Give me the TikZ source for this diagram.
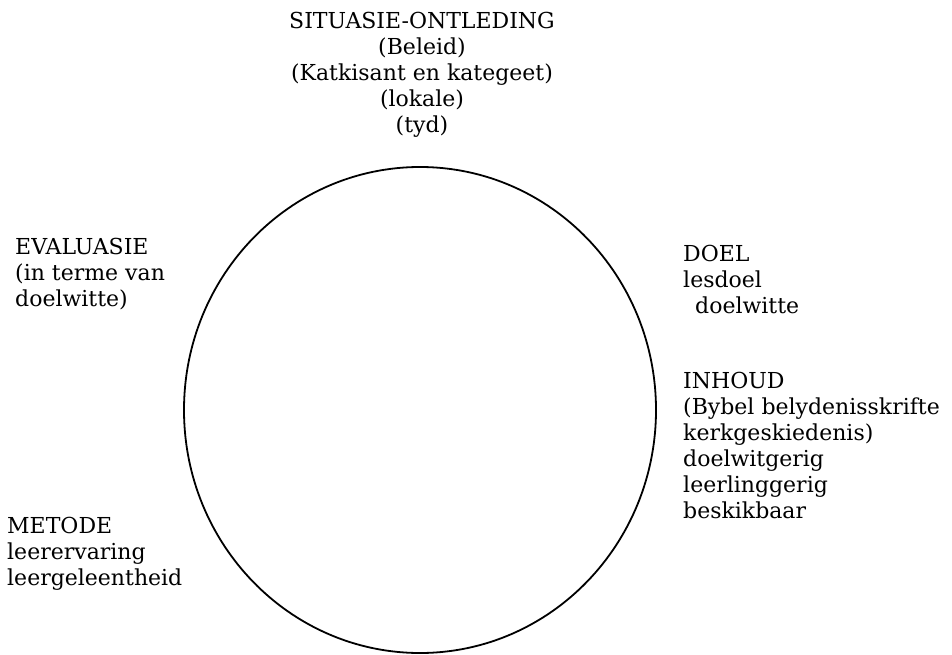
\documentclass[tikz,border=0pt]{standalone}
\usepackage{fontspec}
\setmainfont{DejaVu Serif}
\begin{document}
\begin{tikzpicture}[x=1pt,y=-1pt,
  every node/.style={inner sep=0pt, font=\fontsize{22}{26}\selectfont},
  labelblock/.style={align=left, anchor=north west}]
\useasboundingbox (0,0) rectangle (952,655);
% the cycle
\draw[line width=1.8pt] (420,410) ellipse [x radius=236, y radius=243];
% the stages round it
\node[align=center, anchor=north] (situasie) at (422,12)
  {SITUASIE-ONTLEDING\\(Beleid)\\(Katkisant en kategeet)\\(lokale)\\(tyd)};
\node[labelblock] (doel) at (683,245)
  {DOEL\\lesdoel\\\hspace*{12pt}doelwitte};
\node[labelblock] (inhoud) at (683,372)
  {INHOUD\\(Bybel belydenisskrifte\\kerkgeskiedenis)\\doelwitgerig\\leerlinggerig\\beskikbaar};
\node[labelblock] (metode) at (7,517)
  {METODE\\leerervaring\\leergeleentheid};
\node[labelblock] (evaluasie) at (15,238)
  {EVALUASIE\\(in terme van\\doelwitte)};
\end{tikzpicture}
\end{document}
